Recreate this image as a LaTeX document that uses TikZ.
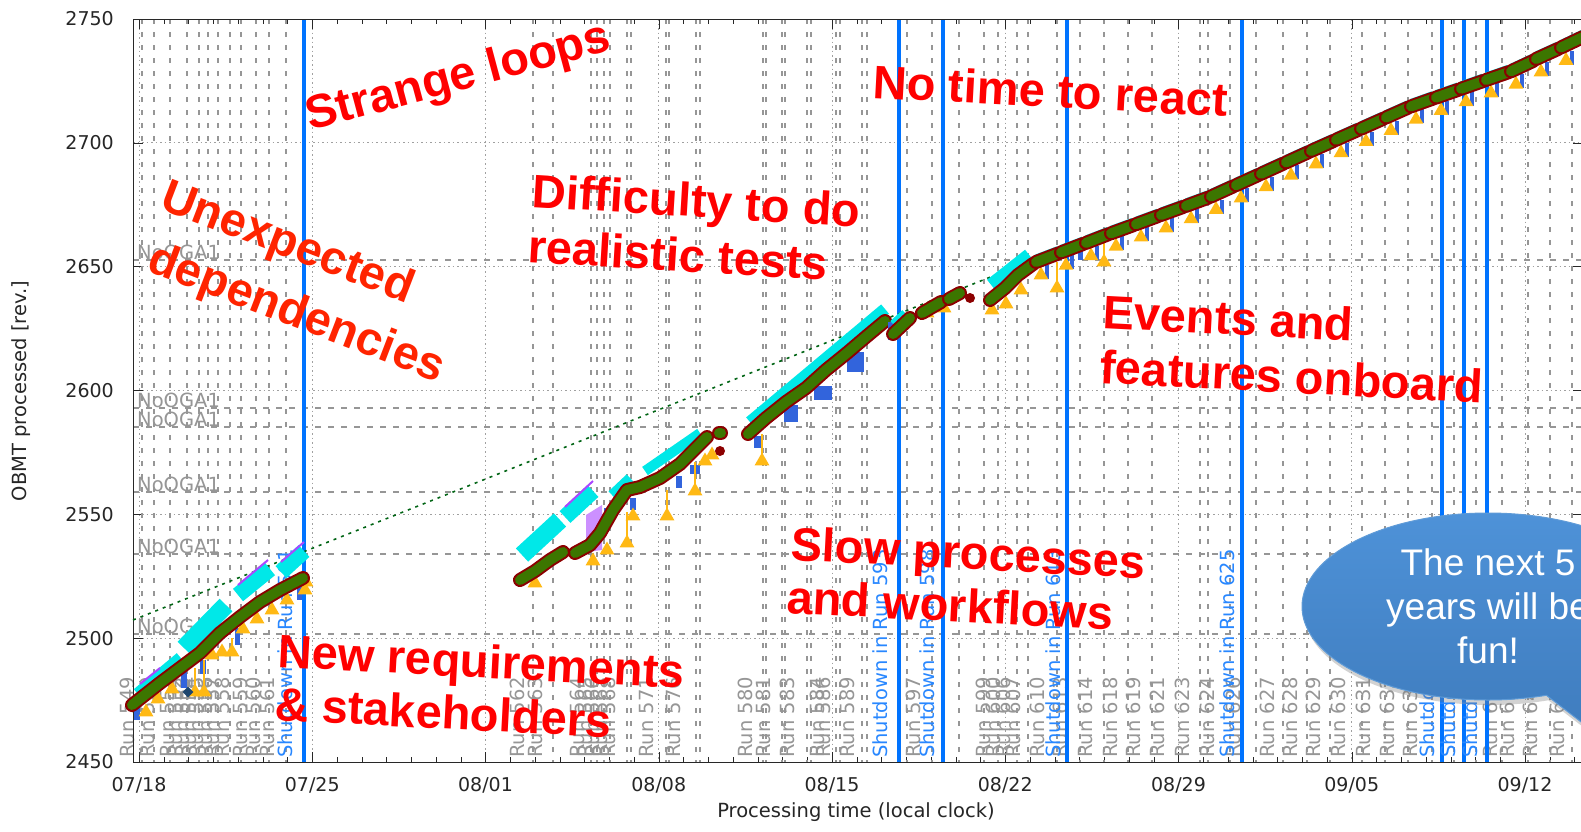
\documentclass[tikz,border=0pt]{standalone}
\usepackage{fontspec}
\newfontfamily\plotfont{DejaVu Sans}
\newfontfamily\notefont{Liberation Sans}
\usepackage{tikz}
\usetikzlibrary{shapes.geometric,shapes.callouts,shadows}
\usepackage{xcolor}
\definecolor{obframe}{RGB}{40,40,40}
\definecolor{obgrid}{RGB}{160,160,160}
\definecolor{obdash}{RGB}{150,150,150}
\definecolor{oblabel}{RGB}{150,150,150}
\definecolor{obshut}{RGB}{0,115,255}
\definecolor{obshuttext}{RGB}{40,135,255}
\definecolor{obgreen}{RGB}{60,118,0}
\definecolor{obred}{RGB}{140,0,0}
\definecolor{obcyan}{RGB}{0,232,232}
\definecolor{obpurple}{RGB}{170,70,255}
\definecolor{obbar}{RGB}{50,100,220}
\definecolor{obamber}{RGB}{255,185,20}
\definecolor{obnavy}{RGB}{30,70,110}
\definecolor{obtrend}{RGB}{0,100,20}
\definecolor{notered}{RGB}{255,0,0}
\definecolor{noteorange}{RGB}{255,36,0}
\definecolor{calltop}{RGB}{78,146,216}
\definecolor{callbot}{RGB}{60,120,185}
\definecolor{callrim}{RGB}{95,155,215}
\tikzstyle{majorgrid} = [draw=obgrid, line width=0.9pt, dash pattern=on 1.5pt off 3pt]
\tikzstyle{ogaline} = [draw=obdash, line width=2.4pt, dash pattern=on 6pt off 7pt]
\tikzstyle{runsep} = [draw=obdash, line width=2pt, dash pattern=on 5pt off 8pt]
\tikzstyle{shutline} = [draw=obshut, line width=3.5pt]
\tikzstyle{runlabel} = [rotate=90, anchor=west, inner sep=0pt, text=oblabel, font=\plotfont\fontsize{19.5}{22}\selectfont]
\tikzstyle{shutlabel} = [runlabel, text=obshuttext]
\tikzstyle{ogalabel} = [anchor=base west, inner sep=0pt, text=oblabel, font=\plotfont\fontsize{19.5}{22}\selectfont]
\tikzstyle{ticklabel} = [inner sep=0pt, text=black!85, font=\plotfont\fontsize{19}{22}\selectfont]
\tikzstyle{axistitle} = [inner sep=0pt, text=black!85, font=\plotfont\fontsize{19.5}{23}\selectfont]
\tikzstyle{chunk} = [draw=obred, line width=2pt, double=obgreen, double distance=10pt, line cap=round, line join=round]
\tikzstyle{cyanband} = [draw=obcyan, line cap=butt]
\tikzstyle{purpedge} = [draw=obpurple, line width=2pt]
\tikzstyle{tri} = [regular polygon, regular polygon sides=3, fill=obamber, inner sep=0pt, minimum size=17pt]
\tikzstyle{stalk} = [draw=obamber, line width=2.5pt]
\tikzstyle{note} = [anchor=base west, inner sep=0pt, text=notered, font=\notefont\bfseries\fontsize{47}{54}\selectfont]
\tikzstyle{bubble} = [ellipse callout, draw=callrim, line width=1pt, top color=calltop, bottom color=callbot, minimum width=372pt, minimum height=187pt, inner sep=0pt, align=center, text=white, font=\notefont\fontsize{37}{44}\selectfont, drop shadow={shadow xshift=2pt, shadow yshift=-5pt, opacity=0.35}]
\begin{document}
\begin{tikzpicture}[x=1pt,y=-1pt]
\useasboundingbox (0,0) rectangle (1581,831);
\clip (0,0) rectangle (1581,831);
\fill[white] (0,0) rectangle (1581,831);

% Weeks
\foreach \lab [count=\k from 0] in {07/18,07/25,08/01,08/08,08/15,08/22,08/29,09/05,09/12} {
  \draw[majorgrid] ({139+173.25*\k},19) -- ({139+173.25*\k},762);
  \draw[obframe] ({139+173.25*\k},762) -- ++(0,-10);
  \draw[obframe] ({139+173.25*\k},19) -- ++(0,10);
  \node[ticklabel] (xt\k) at ({139+173.25*\k},785) {\lab};
}
\foreach \d in {0,...,58} {
  \draw[obframe] ({139+24.75*\d},762) -- ++(0,-5);
  \draw[obframe] ({139+24.75*\d},19) -- ++(0,5);
}

% Revisions
\foreach \v [count=\k from 0] in {2450,2500,...,2750} {
  \draw[majorgrid] (133,{762-123.83*\k}) -- (1583,{762-123.83*\k});
  \draw[obframe] (133,{762-123.83*\k}) -- ++(10,0);
  \draw[obframe] (1583,{762-123.83*\k}) -- ++(-10,0);
  \node[ticklabel, anchor=east] (yt\k) at (114,{762-123.83*\k}) {\v};
}

% NoOGA1 levels
\foreach \y [count=\k] in {260,408,427,492,554,634} {
  \draw[ogaline] (133,\y) -- (1583,\y);
  \node[ogalabel] (oga\k) at (137,{\y-1}) {NoOGA1};
}

% Run boundaries
\foreach \x in {142,154,170,187,199,208,218,230,241,256,269,286,533,553,591,597,604,610,627,631,666,669,696,700,763,766,782,785,807,811,836,840,862,867,907,932,959,984,998,1017,1028,1057,1080,1104,1128,1152,1200,1208,1230,1256,1283,1307,1330,1362,1385,1408,1432,1454,1476,1502,1528,1550,1572}
  \draw[runsep] (\x,19) -- (\x,762);

% Run labels
\foreach \x/\r in {127/549,147/550,168/551,175/552,182/553,190/554,197/555,205/556,213/557,222/558,240/559,253/560,267/561,517/562,535/563,577/564,585/565,592/566,600/567,608/568,647/571,673/576,745/580,763/581,787/583,817/584,823/586,847/589,913/597,983/599,993/600,1003/606,1013/607,1037/610,1060/613,1085/614,1110/618,1133/619,1157/621,1182/623,1207/624,1233/626,1267/627,1290/628,1313/629,1338/630,1363/631,1387/632,1410/633,1490/638,1507/639,1530/640,1557/641}
  \node[runlabel] (run\r) at (\x,758) {Run \r};

% Shutdowns
\foreach \x in {304,899,943,1067,1242,1442,1464,1487}
  \draw[shutline] (\x,19) -- (\x,762);
\foreach \x/\r in {285/561,880/593,927/598,1053/613,1227/625,1427/634,1448/635,1470/636}
  \node[shutlabel] (shut\r) at (\x,758) {Shutdown in Run \r};

% Frame
\draw[obframe, line width=1pt] (1583,19) -- (133,19) -- (133,762) -- (1583,762);

% Trend
\draw[obtrend, line width=1.6pt, dash pattern=on 3pt off 5pt] (133,620) -- (993,276);

% First block
\draw[cyanband, line width=10pt] (137,693) -- (180,657);
\draw[cyanband, line width=18pt] (184,648) -- (226,605);
\draw[cyanband, line width=16pt] (238,595) -- (270,569);
\draw[cyanband, line width=16pt] (281,572) -- (304,551);
\draw[purpedge] (140,684) -- (160,668);
\draw[purpedge] (238,585) -- (268,560);
\draw[purpedge] (281,562) -- (304,542);
\fill[obbar] (134,703) rectangle (140,720);
\fill[obbar] (181,672) rectangle (187,688);
\fill[obbar] (200,660) rectangle (206,674);
\fill[obbar] (235,628) rectangle (240,645);
\fill[obbar] (297,585) rectangle (302,600);
\draw[stalk] (195,668) -- (195,690);
\draw[stalk] (204,660) -- (204,690);
\draw[stalk] (232,638) -- (232,650);
\foreach \x/\y [count=\n] in {146/712,158/699,172/689,195/692,204/692,212/655,222/652,232/652,243/629,257/619,272/610,287/600,305/590,306/582}
  \node[tri] (ta\n) at (\x,\y) {};
\node[diamond, fill=obnavy, inner sep=0pt, minimum size=11pt] (navy) at (188,692) {};
\draw[chunk] (132,705) -- (160,683) -- (180,668) -- (200,653) -- (220,633) -- (240,617) -- (260,602) -- (280,590) -- (303,578);

% Second block
\draw[cyanband, line width=18pt] (522,555) -- (560,520);
\draw[cyanband, line width=16pt] (565,517) -- (593,491);
\draw[purpedge] (565,507) -- (593,481);
\draw[cyanband, line width=10pt] (612,495) -- (630,478);
\draw[cyanband, line width=10pt] (645,471) -- (700,433);
\fill[obpurple!60] (586,552) -- (586,515) -- (602,505) -- (602,550) -- cycle;
\fill[obbar] (604,508) rectangle (610,524);
\fill[obbar] (630,498) rectangle (636,510);
\fill[obbar] (676,476) rectangle (682,488);
\fill[obbar] (690,465) rectangle (700,474);
\draw[stalk] (627,512) -- (627,543);
\draw[stalk] (667,490) -- (667,516);
\draw[stalk] (695,462) -- (695,491);
\foreach \x/\y [count=\n] in {535/583,593/561,607/550,627/543,633/516,667/516,695/491,705/461,712/455}
  \node[tri] (tb\n) at (\x,\y) {};
\draw[chunk] (520,580) -- (535,571) -- (550,560) -- (563,552);
\draw[chunk] (575,553) -- (590,545) -- (600,533) -- (613,510) -- (627,490) -- (640,487) -- (660,478) -- (680,464) -- (697,447) -- (707,437);
\fill[obred] (720,451) circle (5pt);
\draw[chunk] (719,433) -- (721,433);

% Third block
\draw[cyanband, line width=12pt] (750,422) -- (885,309);
\fill[obbar] (754,436) rectangle (762,448);
\fill[obbar] (784,405) rectangle (798,422);
\fill[obbar] (814,386) rectangle (832,400);
\fill[obbar] (847,352) rectangle (864,372);
\draw[stalk] (762,434) -- (762,461);
\node[tri] (tc1) at (762,461) {};
\draw[chunk] (748,434) -- (766,418) -- (786,402) -- (806,388) -- (826,370) -- (847,353) -- (867,336) -- (885,321);
\fill[obbar] (888,322) rectangle (900,340);
\draw[cyanband, line width=8pt] (893,324) -- (905,313);
\node[tri] (td1) at (927,313) {};
\node[tri] (td2) at (944,308) {};
\draw[chunk] (893,334) -- (910,318);
\draw[chunk] (922,313) -- (941,302);
\draw[chunk] (949,299) -- (960,293);
\fill[obred] (970,298) circle (5pt);

% Last block
\draw[cyanband, line width=16pt] (992,286) -- (1030,256);
\draw[stalk] (1057,262) -- (1057,288);
\draw[stalk] (1104,240) -- (1104,262);
\fill[obbar] (1078,245) rectangle (1083,260);
\foreach \x/\y [count=\n] in {992/310,1006/304,1021/290,1057/288,1104/262}
  \node[tri] (te\n) at (\x,\y) {};
\draw[chunk] (990,300) -- (1005,288) -- (1018,275) -- (1033,264);
\foreach \xa/\ya/\xb/\yb [count=\n] in {1036/262/1058/253.6,1061/252.4/1083/244,1086/242.9/1108/234.4,1111/233.3/1133/225.3,1136/224.2/1158/216.1,1161/215/1183/207,1186/205.9/1208/197.8,1211/196.5/1233/186.5,1236/185.2/1258/175.2,1261/173.8/1283/163.8,1286/162.4/1308/152.4,1311/151/1333/141.2,1336/139.8/1358/130,1361/128.7/1383/118.9,1386/117.5/1408/107.7,1411/106.4/1433/98.6,1436/97.6/1458/89.9,1461/88.8/1483/81.1,1486/80/1508/72.4,1511/71.3/1533/61,1536/59/1558/49,1561/47.5/1583/37} {
  \draw[cyanband, line width=7pt] (\xa,{\ya-4}) -- (\xb,{\yb-4});
  \fill[obbar] ({\xa+9},{\ya+3}) rectangle ({\xa+13},{\ya+17});
  \node[tri] (tf\n) at ({\xa+5},{\ya+13}) {};
}
\foreach \xa/\ya/\xb/\yb in {1036/262/1058/253.6,1061/252.4/1083/244,1086/242.9/1108/234.4,1111/233.3/1133/225.3,1136/224.2/1158/216.1,1161/215/1183/207,1186/205.9/1208/197.8,1211/196.5/1233/186.5,1236/185.2/1258/175.2,1261/173.8/1283/163.8,1286/162.4/1308/152.4,1311/151/1333/141.2,1336/139.8/1358/130,1361/128.7/1383/118.9,1386/117.5/1408/107.7,1411/106.4/1433/98.6,1436/97.6/1458/89.9,1461/88.8/1483/81.1,1486/80/1508/72.4,1511/71.3/1533/61,1536/59/1558/49,1561/47.5/1583/37}
  \draw[chunk] (\xa,\ya) -- (\xb,\yb);

% Axis titles
\node[axistitle, rotate=90] (ytitle) at (21,391) {OBMT processed [rev.]};
\node[axistitle] (xtitle) at (856,812) {Processing time (local clock)};

% Notes
\node[note, rotate=15] (strange) at (310,131) {Strange loops};
\node[note, rotate=-21, text=noteorange] (unexp) at (158,208) {Unexpected};
\node[note, rotate=-21, text=noteorange] (depend) at (145,270) {dependencies};
\node[note, rotate=-3.5] (diffic) at (531,207) {Difficulty to do};
\node[note, rotate=-3.5] (realist) at (527,262) {realistic tests};
\node[note, rotate=-3] (notime) at (872,98) {No time to react};
\node[note, rotate=-3] (events) at (1102,328) {Events and};
\node[note, rotate=-3] (features) at (1099,383) {features onboard};
\node[note, rotate=-3] (slow) at (790,560) {Slow processes};
\node[note, rotate=-3] (workfl) at (786,613) {and workflows};
\node[note, rotate=-3] (newreq) at (277,667) {New requirements};
\node[note, rotate=-3] (stake) at (274,720) {\& stakeholders};

% Callout
\node[bubble, callout absolute pointer={(1650,775)}] (bubble) at (1488,606.5) {The next 5\\years will be\\fun!};
\end{tikzpicture}
\end{document}
